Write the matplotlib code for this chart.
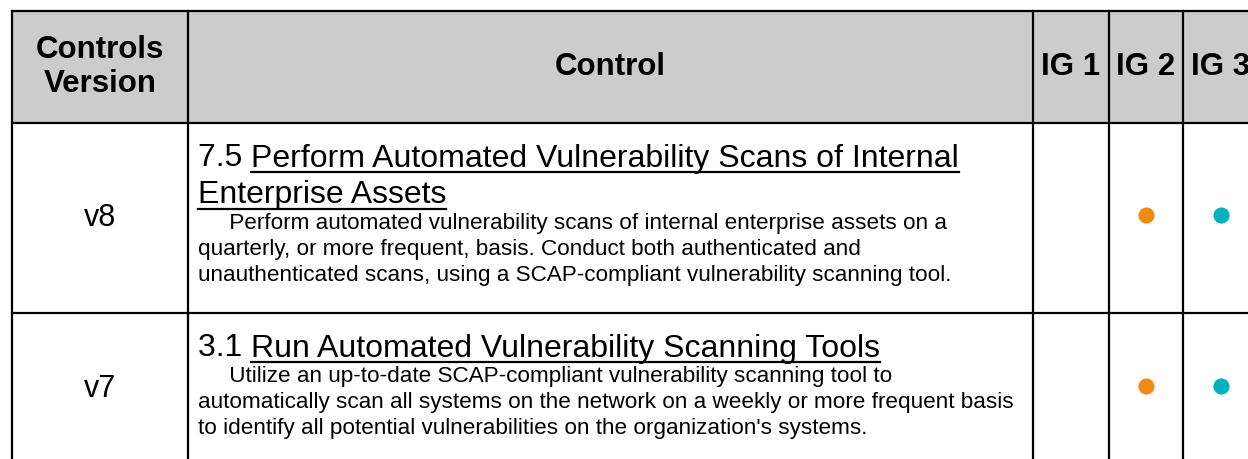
import matplotlib
matplotlib.use('Agg')
import matplotlib.pyplot as plt

# table content
headers = ['Controls\nVersion', 'Control', 'IG 1', 'IG 2', 'IG 3']
versions = ['v8', 'v7']
control_ids = ['7.5', '3.1']
control_titles = [
    ['Perform Automated Vulnerability Scans of Internal', 'Enterprise Assets'],
    ['Run Automated Vulnerability Scanning Tools'],
]
descriptions = [
    ['     Perform automated vulnerability scans of internal enterprise assets on a',
     'quarterly, or more frequent, basis. Conduct both authenticated and',
     'unauthenticated scans, using a SCAP-compliant vulnerability scanning tool.'],
    ['     Utilize an up-to-date SCAP-compliant vulnerability scanning tool to',
     'automatically scan all systems on the network on a weekly or more frequent basis',
     'to identify all potential vulnerabilities on the organization\'s systems.'],
]
ig_marks = [[False, True, True], [False, True, True]]
ig_colors = ['#2b6cb0', '#f28a12', '#00b1bf']

# layout (pixels)
W, H = 1248, 459
col_edges = [12, 188, 1033, 1109, 1183, 1259]
row_edges = [11, 123, 313, 462]
header_bg = '#cccccc'
lw = 1.6

fig = plt.figure(figsize=(W / 100, H / 100), dpi=100)
ax = fig.add_axes([0, 0, 1, 1])
ax.set_xlim(0, W)
ax.set_ylim(H, 0)
ax.axis('off')
plt.rcParams['font.family'] = ['Liberation Sans', 'DejaVu Sans']

# header background
ax.fill_between([col_edges[0], col_edges[-1]], row_edges[0], row_edges[1], color=header_bg, lw=0)

# grid lines
for x in col_edges:
    ax.plot([x, x], [row_edges[0], row_edges[-1]], color='black', lw=lw, solid_capstyle='projecting')
for y in row_edges:
    ax.plot([col_edges[0], col_edges[-1]], [y, y], color='black', lw=lw, solid_capstyle='projecting')

# header text (IG 3 is cut by the right edge, as in the source)
for i, h in enumerate(headers):
    cx = (col_edges[i] + col_edges[i + 1]) / 2
    cy = (row_edges[0] + row_edges[1]) / 2
    ax.text(cx, cy, h, ha='center', va='center', fontsize=22.5, fontweight='bold', linespacing=1.17)

fig.canvas.draw()
renderer = fig.canvas.get_renderer()
inv = ax.transData.inverted()

def right_edge(t):
    bb = t.get_window_extent(renderer)
    return inv.transform((bb.x1, bb.y0))[0]

text_x = col_edges[1] + 10
for r in range(len(versions)):
    top = row_edges[r + 1]
    cy = top + 92 if r == 0 else top + 73
    ax.text((col_edges[0] + col_edges[1]) / 2, cy + 3, versions[r], ha='center', va='center', fontsize=22)

    # title lines, underlined except the id prefix
    base = top + 43.5
    for k, line in enumerate(control_titles[r]):
        x0 = text_x
        if k == 0:
            p = ax.text(x0, base, control_ids[r] + ' ', ha='left', va='baseline', fontsize=23)
            x0 = right_edge(p)
        t = ax.text(x0, base, line, ha='left', va='baseline', fontsize=23)
        x1 = right_edge(t)
        ax.plot([x0, x1], [base + 5, base + 5], color='black', lw=1.6)
        base += 37
    base = base - 37 + 25.5
    for line in descriptions[r]:
        ax.text(text_x, base, line, ha='left', va='baseline', fontsize=16.2)
        base += 26

    # implementation group dots
    for j, on in enumerate(ig_marks[r]):
        if on:
            cx = (col_edges[j + 2] + col_edges[j + 3]) / 2
            ax.scatter([cx], [cy], s=135, color=ig_colors[j], lw=0, zorder=3)

fig.savefig('out.png', dpi=100)
